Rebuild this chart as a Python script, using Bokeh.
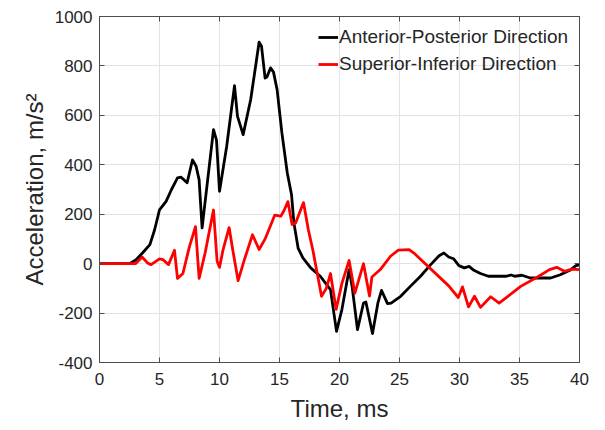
from bokeh.plotting import figure
from bokeh.models import LinearAxis, FixedTicker, Range1d, Legend, LegendItem
from bokeh.embed import file_html
from bokeh.resources import INLINE

# Anterior-posterior acceleration trace (time in ms, acceleration in m/s^2)
time_ap = [0, 2.5, 3.05, 3.6, 4.2, 4.6, 5.0, 5.55, 6.0, 6.5, 6.8, 7.3, 7.75, 8.05, 8.3,
           8.55, 9.5, 9.75, 10.0, 10.6, 11.25, 11.5, 11.97, 12.6, 13.3, 13.5, 13.8, 13.95,
           14.25, 14.5, 14.8, 15.2, 15.65, 16.0, 16.2, 16.55, 16.95, 17.6, 18.4, 19.25,
           19.75, 20.2, 20.8, 21.05, 21.5, 22.0, 22.2, 22.75, 23.2, 23.5, 24.0, 24.3, 25.1,
           25.9, 26.75, 27.6, 28.3, 28.7, 29.1, 29.5, 29.95, 30.4, 30.8, 31.2, 31.75, 32.4,
           33.9, 34.3, 34.6, 35.2, 35.9, 37.6, 38.4, 39.2, 39.7, 40.0]
accel_ap = [0, 0, 16, 44, 77, 138, 218, 252, 300, 347, 350, 327, 420, 394, 340,
            145, 542, 500, 293, 475, 720, 596, 522, 664, 896, 880, 751, 755,
            792, 775, 704, 529, 367, 280, 165, 63, 23, -17, -51, -105,
            -274, -186, -24, -92, -267, -159, -155, -283, -159, -108, -162, -160, -132,
            -92, -51, -4, 32, 43, 27, 20, -8, -17, -11, -27, -40, -51,
            -51, -46, -51, -47, -58, -58, -45, -27, -8, -5]

# Superior-inferior acceleration trace
time_si = [0, 3.0, 3.55, 4.0, 4.3, 5.0, 5.3, 5.75, 6.25, 6.5, 6.95, 7.5, 8.0, 8.3, 8.8,
           9.5, 9.8, 10.0, 10.3, 10.8, 11.1, 11.55, 12.1, 12.75, 13.3, 13.8, 14.6, 15.1,
           15.35, 15.7, 16.05, 16.35, 17.0, 17.4, 17.8, 18.5, 18.9, 19.25, 19.72, 20.2,
           20.8, 21.28, 22.0, 22.5, 22.7, 23.4, 24.25, 24.9, 25.8, 26.2, 29.1, 29.9,
           30.25, 30.75, 31.25, 31.75, 32.6, 33.3, 35.1, 36.5, 37.5, 38.1, 38.75, 39.35, 40.0]
accel_si = [0, 0, 27, 3, -4, 19, 16, -4, 54, -60, -40, 70, 150, -60, 43,
            217, 10, -15, 57, 146, 57, -69, 20, 117, 57, 100, 196, 192,
            212, 251, 158, 165, 247, 138, 50, -132, -100, -40, -185, -80,
            13, -119, 0, -131, -54, -24, 30, 55, 57, 43, -90, -137,
            -94, -175, -132, -177, -134, -160, -92, -54, -24, -15, -31, -22, -24]

x_ticks = [0, 5, 10, 15, 20, 25, 30, 35, 40]
y_ticks = [-400, -200, 0, 200, 400, 600, 800, 1000]

FONT = "Liberation Sans"
TEXT = "#262626"
FRAME = "#4d4d4d"

p = figure(width=605, height=430, output_backend="svg", toolbar_location=None,
           x_range=Range1d(0, 40), y_range=Range1d(-400, 1000),
           min_border_left=99, min_border_right=26, min_border_top=16,
           min_border_bottom=68, background_fill_color="white",
           border_fill_color="white", outline_line_color=FRAME)

ap = p.line(time_ap, accel_ap, line_color="black", line_width=2.8,
            line_join="round")
si = p.line(time_si, accel_si, line_color="#ff0000", line_width=2.8,
            line_join="round")

# main axes
for ax, ticks in ((p.xaxis[0], x_ticks), (p.yaxis[0], y_ticks)):
    ax.ticker = FixedTicker(ticks=ticks)
    ax.major_label_overrides = {t: str(t) for t in ticks}
    ax.major_tick_in = 5
    ax.major_tick_out = 0
    ax.minor_tick_in = 0
    ax.minor_tick_out = 0
    ax.axis_line_color = FRAME
    ax.major_tick_line_color = FRAME
    ax.major_label_text_font = FONT
    ax.major_label_text_font_size = "17px"
    ax.major_label_text_color = TEXT
    ax.axis_label_text_font = FONT
    ax.axis_label_text_font_size = "24px"
    ax.axis_label_text_font_style = "normal"
    ax.axis_label_text_color = TEXT

p.xaxis[0].axis_label = "Time, ms"
p.xaxis[0].major_label_standoff = 10
p.xaxis[0].axis_label_standoff = 7
p.yaxis[0].axis_label = "Acceleration, m/s²"
p.yaxis[0].major_label_standoff = 7
p.yaxis[0].axis_label_standoff = 4

# box axes on top and right with inward ticks only, no labels
for loc, ticks in (("above", x_ticks), ("right", y_ticks)):
    box_ax = LinearAxis(ticker=FixedTicker(ticks=ticks), major_tick_in=5,
                        major_tick_out=0, minor_tick_in=0, minor_tick_out=0,
                        major_label_text_color=None, major_label_standoff=0,
                        axis_line_color=FRAME, major_tick_line_color=FRAME)
    p.add_layout(box_ax, loc)

p.xgrid.ticker = FixedTicker(ticks=x_ticks)
p.ygrid.ticker = FixedTicker(ticks=y_ticks)
p.grid.grid_line_color = "#e3e3e3"
p.grid.grid_line_width = 1

legend = Legend(items=[LegendItem(label="Anterior-Posterior Direction", renderers=[ap]),
                       LegendItem(label="Superior-Inferior Direction", renderers=[si])],
                location=(219, 287), padding=0, margin=0, spacing=5,
                glyph_width=20, glyph_height=20, label_height=20, label_standoff=1,
                label_text_font=FONT, label_text_font_size="19px",
                label_text_color=TEXT, border_line_color=None,
                background_fill_alpha=0)
p.add_layout(legend, "center")

open("out.html", "w").write(file_html(p, INLINE))
